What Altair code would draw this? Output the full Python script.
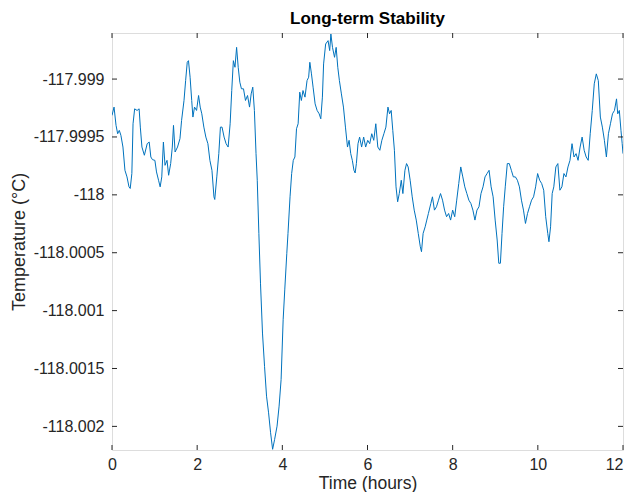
import altair as alt
import pandas as pd

# Time in hours
time_h = [0.000, 0.048, 0.095, 0.133, 0.171, 0.209, 0.257, 0.304, 0.352, 0.399,
          0.428, 0.466, 0.494, 0.532, 0.589, 0.637, 0.665, 0.703, 0.760, 0.827,
          0.874, 0.912, 0.950, 1.007, 1.045, 1.093, 1.131, 1.169, 1.207, 1.245,
          1.292, 1.330, 1.378, 1.416, 1.444, 1.482, 1.539, 1.596, 1.634, 1.691,
          1.729, 1.767, 1.796, 1.834, 1.872, 1.900, 1.938, 1.986, 2.033, 2.071,
          2.109, 2.157, 2.204, 2.252, 2.299, 2.347, 2.394, 2.413, 2.461, 2.508,
          2.546, 2.584, 2.632, 2.679, 2.727, 2.774, 2.812, 2.850, 2.888, 2.926,
          2.964, 3.002, 3.040, 3.088, 3.135, 3.183, 3.230, 3.268, 3.306, 3.344,
          3.382, 3.411, 3.449, 3.487, 3.534, 3.582, 3.629, 3.677, 3.724, 3.772,
          3.819, 3.876, 3.924, 3.971, 4.019, 4.057, 4.105, 4.133, 4.181, 4.219,
          4.257, 4.295, 4.333, 4.371, 4.409, 4.447, 4.485, 4.532, 4.580, 4.618,
          4.646, 4.684, 4.722, 4.770, 4.817, 4.865, 4.903, 4.941, 4.969, 5.017,
          5.074, 5.112, 5.140, 5.178, 5.226, 5.264, 5.302, 5.340, 5.387, 5.435,
          5.482, 5.530, 5.568, 5.606, 5.644, 5.682, 5.710, 5.739, 5.777, 5.815,
          5.862, 5.910, 5.957, 6.005, 6.052, 6.100, 6.147, 6.195, 6.242, 6.290,
          6.337, 6.385, 6.432, 6.480, 6.518, 6.556, 6.594, 6.632, 6.670, 6.708,
          6.746, 6.793, 6.831, 6.879, 6.917, 6.955, 7.002, 7.050, 7.097, 7.145,
          7.192, 7.240, 7.268, 7.306, 7.354, 7.392, 7.430, 7.487, 7.525, 7.572,
          7.620, 7.667, 7.715, 7.762, 7.810, 7.857, 7.905, 7.952, 8.000, 8.048,
          8.095, 8.143, 8.190, 8.238, 8.285, 8.333, 8.380, 8.428, 8.475, 8.523,
          8.570, 8.618, 8.665, 8.713, 8.760, 8.808, 8.855, 8.903, 8.950, 8.998,
          9.045, 9.083, 9.121, 9.159, 9.197, 9.235, 9.283, 9.330, 9.378, 9.425,
          9.473, 9.520, 9.568, 9.615, 9.663, 9.710, 9.758, 9.805, 9.853, 9.900,
          9.948, 9.995, 10.043, 10.090, 10.138, 10.185, 10.233, 10.261, 10.299, 10.337,
          10.375, 10.423, 10.470, 10.518, 10.565, 10.613, 10.660, 10.708, 10.755, 10.803,
          10.850, 10.898, 10.945, 10.993, 11.040, 11.088, 11.135, 11.183, 11.230, 11.278,
          11.325, 11.373, 11.420, 11.468, 11.515, 11.563, 11.610, 11.658, 11.705, 11.753,
          11.800, 11.848, 11.876, 11.914, 11.952, 11.981, 12.000]

# Temperature deviation from -118 °C, in micro-degrees
dev_micro = [686, 758, 600, 528, 557, 514, 413, 212, 155, 69,
             55, 184, 614, 743, 729, 743, 585, 413, 342, 442,
             456, 327, 304, 298, 198, 126, 69, 155, 456, 255,
             298, 169, 270, 413, 600, 370, 413, 485, 643, 815,
             987, 1145, 1159, 1016, 815, 672, 758, 729, 858, 758,
             700, 585, 499, 442, 298, 212, -17, -40, 155, 356,
             585, 585, 499, 442, 413, 614, 901, 1159, 1102, 1274,
             1102, 973, 916, 916, 815, 858, 758, 872, 930, 729,
             356, 126, -333, -763, -1194, -1481, -1739, -1883, -2055, -2198,
             -2112, -1998, -1825, -1596, -1079, -821, -505, -333, -17, 184,
             298, 327, 571, 614, 887, 815, 901, 844, 987, 1016,
             1145, 1045, 930, 786, 729, 700, 657, 844, 1131, 1303,
             1332, 1246, 1389, 1274, 1188, 1274, 1102, 987, 872, 758,
             585, 413, 471, 356, 298, 212, 189, 270, 442, 499,
             413, 499, 413, 471, 442, 528, 471, 614, 413, 385,
             471, 528, 585, 758, 700, 729, 557, 385, 69, -60,
             11, 126, 11, 212, 270, 241, 126, -17, -132, -218,
             -333, -448, -491, -333, -276, -218, -161, -75, -17, -132,
             -103, -46, 11, -46, -132, -189, -161, -218, -132, -189,
             -46, 98, 241, 155, 69, 11, -46, -75, -132, -218,
             -132, -103, 11, 69, 155, 184, 212, 69, -17, -218,
             -390, -591, -591, -333, -103, 69, 270, 270, 212, 155,
             155, 126, 69, -46, -132, -247, -161, -103, -46, -17,
             69, 184, 126, 98, 40, -189, -333, -405, -276, 11,
             69, 241, 270, 40, 69, 184, 155, 241, 298, 442,
             327, 356, 298, 413, 499, 385, 327, 298, 528, 729,
             959, 1045, 987, 672, 585, 471, 327, 528, 614, 700,
             729, 829, 700, 729, 557, 442, 356]

x_ticks = [0, 2, 4, 6, 8, 10, 12]
y_ticks = [-117.999, -117.9995, -118.0, -118.0005, -118.001, -118.0015, -118.002]

df = pd.DataFrame({"t": time_h, "temp": [-118.0 + d * 1e-6 for d in dev_micro]})
xt = pd.DataFrame({"t": x_ticks})
yt = pd.DataFrame({"temp": y_ticks})

W, H = 511, 417
x_dom = [0, 12]
y_dom = [-118.002204, -117.998602]
AX = "#262626"
FONT = "Liberation Sans"

x_enc = alt.X("t:Q", scale=alt.Scale(domain=x_dom, nice=False, zero=False),
              axis=alt.Axis(values=x_ticks, title="Time (hours)", tickSize=0,
                            domain=False, grid=False, labelPadding=6,
                            labelFlush=False,
                            labelAlign={"condition": {"test": "datum.value == 12", "value": "right"},
                                        "value": "center"},
                            labelFontSize=16, labelColor=AX, labelFont=FONT,
                            titleFont=FONT, titleFontSize=17.5, titleFontWeight="normal",
                            titleColor=AX, titlePadding=2))
y_enc = alt.Y("temp:Q", scale=alt.Scale(domain=y_dom, nice=False, zero=False),
              axis=alt.Axis(values=y_ticks, title="Temperature (°C)", tickSize=0,
                            domain=False, grid=False, labelPadding=8,
                            labelFlush=False,
                            labelExpr="replace(format(datum.value, '.4~f'), '\u2212', '-')",
                            labelFontSize=16, labelColor=AX, labelFont=FONT,
                            titleFont=FONT, titleFontSize=18, titleFontWeight="normal",
                            titleColor=AX, titlePadding=5))

line = alt.Chart(df).mark_line(color="#0072BD", strokeWidth=1, clip=True).encode(
    x=x_enc, y=y_enc)

tick_len = 5
xb = alt.Chart(xt).mark_rule(color=AX, strokeWidth=1).encode(
    x="t:Q", y=alt.value(H), y2=alt.value(H - tick_len))
xtop = alt.Chart(xt).mark_rule(color=AX, strokeWidth=1).encode(
    x="t:Q", y=alt.value(0), y2=alt.value(tick_len))
yl = alt.Chart(yt).mark_rule(color=AX, strokeWidth=1).encode(
    y="temp:Q", x=alt.value(0), x2=alt.value(tick_len))
yr = alt.Chart(yt).mark_rule(color=AX, strokeWidth=1).encode(
    y="temp:Q", x=alt.value(W), x2=alt.value(W - tick_len))

chart = alt.layer(line, xb, xtop, yl, yr).properties(
    width=W, height=H,
    title=alt.TitleParams("Long-term Stability", font=FONT, fontSize=17,
                          fontWeight="bold", color="black", offset=5),
    autosize=alt.AutoSizeParams(type="none"),
    padding={"left": 104, "top": 25, "right": 2, "bottom": 42},
).configure_view(stroke=AX, strokeWidth=1).configure(background="white")

chart.save("out.html", embed_options={"renderer": "svg", "actions": False})
